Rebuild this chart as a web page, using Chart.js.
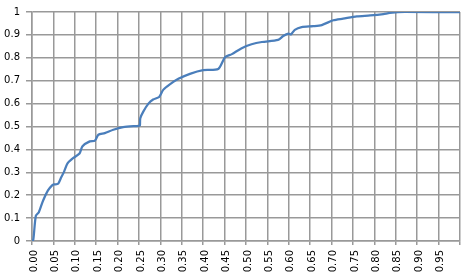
<!DOCTYPE html>
<html>
<head>
<meta charset="utf-8">
<script src="https://cdn.jsdelivr.net/npm/chart.js@4/dist/chart.umd.min.js"></script>
<style>
  html, body { margin: 0; padding: 0; background: #ffffff; }
  #wrap { width: 463px; height: 278px; }
</style>
</head>
<body>
<div id="wrap"><canvas id="c" width="463" height="278"></canvas></div>
<script>
// Cumulative fraction curve
const xValues = [0, 0.003, 0.009, 0.016, 0.026, 0.037, 0.047, 0.052, 0.061, 0.068, 0.075, 0.083, 0.096, 0.111, 0.118, 0.135, 0.147, 0.155, 0.17, 0.19, 0.213, 0.249, 0.252, 0.253, 0.26, 0.272, 0.283, 0.297, 0.307, 0.322, 0.342, 0.369, 0.4, 0.435, 0.451, 0.467, 0.49, 0.513, 0.537, 0.575, 0.587, 0.599, 0.605, 0.614, 0.63, 0.657, 0.677, 0.704, 0.727, 0.759, 0.79, 0.821, 0.836, 0.871, 1.0];
const yValues = [0, 0.005, 0.11, 0.126, 0.177, 0.22, 0.243, 0.247, 0.25, 0.277, 0.303, 0.339, 0.362, 0.382, 0.414, 0.435, 0.438, 0.464, 0.471, 0.486, 0.497, 0.503, 0.504, 0.536, 0.565, 0.6, 0.618, 0.629, 0.661, 0.684, 0.708, 0.73, 0.746, 0.751, 0.802, 0.816, 0.842, 0.859, 0.869, 0.878, 0.895, 0.906, 0.902, 0.922, 0.934, 0.938, 0.943, 0.964, 0.971, 0.981, 0.985, 0.991, 0.996, 1.0, 1.0];
const xTickLabels = ['0.00','0.05','0.10','0.15','0.20','0.25','0.30','0.35','0.40','0.45','0.50','0.55','0.60','0.65','0.70','0.75','0.80','0.85','0.90','0.95',''];
const yTickLabels = ['0','0.1','0.2','0.3','0.4','0.5','0.6','0.7','0.8','0.9','1'];

const points = xValues.map((x, i) => ({ x: x, y: yValues[i] }));

const FONT = { family: 'DejaVu Sans', size: 10 };
const GRID = '#999999';

new Chart(document.getElementById('c'), {
  type: 'line',
  data: {
    datasets: [{
      data: points,
      borderColor: '#4a7ebb',
      borderWidth: 2.25,
      pointRadius: 0,
      tension: 0.25,
      fill: false
    }]
  },
  options: {
    responsive: false,
    animation: false,
    devicePixelRatio: 1,
    layout: { padding: { top: 9, right: 3, left: 0, bottom: 0 } },
    plugins: { legend: { display: false }, tooltip: { enabled: false } },
    scales: {
      x: {
        type: 'linear',
        min: 0, max: 1,
        grid: { color: GRID, lineWidth: 1.5, tickLength: 4 },
        border: { color: GRID, width: 1.5 },
        ticks: {
          stepSize: 0.05,
          autoSkip: false,
          minRotation: 90, maxRotation: 90,
          padding: 5,
          color: '#000000',
          font: FONT,
          labelOffset: 2,
          callback: (v, i) => xTickLabels[i] !== undefined ? xTickLabels[i] : ''
        },
        afterFit: (s) => { s.height = 37; s.paddingRight = 0; s.paddingLeft = 0; }
      },
      y: {
        min: 0, max: 1,
        grid: { color: GRID, lineWidth: 1.5, tickLength: 6 },
        border: { color: GRID, width: 1.5 },
        ticks: {
          stepSize: 0.1,
          padding: 6,
          color: '#000000',
          font: FONT,
          callback: (v, i) => yTickLabels[i] !== undefined ? yTickLabels[i] : ''
        },
        afterFit: (s) => { s.width = 32; }
      }
    }
  }
});
</script>
</body>
</html>
